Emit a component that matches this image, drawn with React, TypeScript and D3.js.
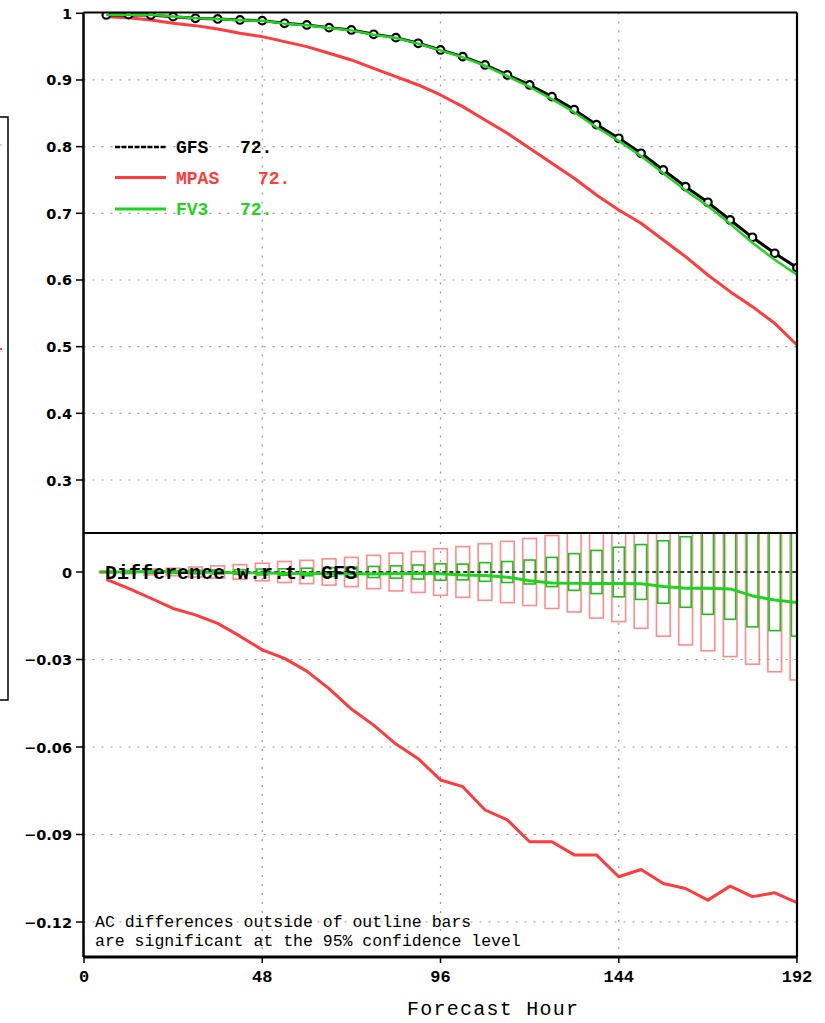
import React from "react";
import * as d3 from "d3";

const hours = [6, 12, 18, 24, 30, 36, 42, 48, 54, 60, 66, 72, 78, 84, 90, 96, 102, 108, 114, 120, 126, 132, 138, 144, 150, 156, 162, 168, 174, 180, 186, 192];

const gfsAC = [0.9975, 0.998, 0.9975, 0.995, 0.9925, 0.9915, 0.99, 0.989, 0.985, 0.9825, 0.9785, 0.975, 0.9685, 0.9635, 0.955, 0.945, 0.935, 0.9225, 0.9075, 0.8925, 0.875, 0.8555, 0.833, 0.8125, 0.79, 0.765, 0.74, 0.7165, 0.69, 0.664, 0.64, 0.6185];
const mpasAC = [0.995, 0.9935, 0.99, 0.985, 0.9815, 0.9765, 0.97, 0.965, 0.9575, 0.95, 0.94, 0.93, 0.9175, 0.905, 0.8925, 0.8775, 0.86, 0.84, 0.82, 0.7975, 0.775, 0.7525, 0.7275, 0.705, 0.685, 0.66, 0.635, 0.6075, 0.5825, 0.56, 0.535, 0.5025];
const fv3AC = [0.9975, 0.998, 0.9977, 0.9952, 0.9925, 0.9913, 0.9897, 0.9887, 0.9845, 0.982, 0.978, 0.9744, 0.9678, 0.963, 0.9545, 0.9444, 0.934, 0.9213, 0.9057, 0.8895, 0.8712, 0.8516, 0.8291, 0.8086, 0.786, 0.76, 0.7344, 0.7109, 0.6842, 0.6558, 0.6304, 0.608];

const gfsDiff = [0, 0, 0, 0, 0, 0, 0, 0, 0, 0, 0, 0, 0, 0, 0, 0, 0, 0, 0, 0, 0, 0, 0, 0, 0, 0, 0, 0, 0, 0, 0, 0];
const mpasDiff = [-0.0025, -0.0056, -0.009, -0.0125, -0.0147, -0.0176, -0.022, -0.0267, -0.0296, -0.034, -0.04, -0.047, -0.0525, -0.059, -0.064, -0.0713, -0.0736, -0.0816, -0.085, -0.0925, -0.0925, -0.097, -0.097, -0.1045, -0.102, -0.1068, -0.1085, -0.1125, -0.1077, -0.1113, -0.11, -0.1134];
const fv3Diff = [0, 0, 0.0002, 0.0002, 0, -0.0002, -0.0003, -0.0003, -0.0005, -0.0005, -0.0005, -0.0006, -0.0007, -0.0005, -0.0005, -0.0006, -0.001, -0.0012, -0.0018, -0.003, -0.0038, -0.0039, -0.0039, -0.0039, -0.004, -0.005, -0.0056, -0.0056, -0.0058, -0.0082, -0.0096, -0.0105];

const mpasCI = [0.0003, 0.0006, 0.001, 0.0013, 0.0017, 0.0021, 0.0025, 0.003, 0.0036, 0.004, 0.0045, 0.005, 0.0057, 0.0065, 0.007, 0.008, 0.0087, 0.0097, 0.0105, 0.0115, 0.0125, 0.0137, 0.0158, 0.017, 0.0193, 0.022, 0.025, 0.027, 0.029, 0.0316, 0.0342, 0.037];
const fv3CI = [0.0002, 0.0003, 0.0004, 0.0005, 0.0006, 0.0007, 0.0008, 0.001, 0.0011, 0.0013, 0.0015, 0.0017, 0.0019, 0.0021, 0.0024, 0.0028, 0.0027, 0.0032, 0.0036, 0.0041, 0.005, 0.0063, 0.0074, 0.0085, 0.0094, 0.0107, 0.0121, 0.0145, 0.0162, 0.0188, 0.0201, 0.022];

const xTicks = [0, 48, 96, 144, 192];
const topTicks = [1, 0.9, 0.8, 0.7, 0.6, 0.5, 0.4, 0.3];
const topTickLabels = ["1", "0.9", "0.8", "0.7", "0.6", "0.5", "0.4", "0.3"];
const botTicks = [0, -0.03, -0.06, -0.09, -0.12];
const botTickLabels = ["0", "\u22120.03", "\u22120.06", "\u22120.09", "\u22120.12"];

const legendNames = ["GFS", "MPAS", "FV3"];
const legendVals = ["72.", "72.", "72."];

const RED = "#ff3b3b";
const GREEN = "#1ed41e";
const MONO = "'Liberation Mono', 'DejaVu Sans Mono', monospace";
const SANS = "'DejaVu Sans', sans-serif";

export default function App() {
  const W = 825, H = 1023;
  const L = 83.5, R = 797;
  const topY0 = 12.5, midY = 533, botY1 = 957;

  const x = d3.scaleLinear().domain([0, 192]).range([84, 797]);
  const yTop = d3.scaleLinear().domain([0.3, 1]).range([480, 13.3]);
  const yBot = d3.scaleLinear().domain([0, -0.12]).range([572, 922]);

  const lineTop = (vals: number[]) =>
    d3.line<number>().x((_, i) => x(hours[i])).y((v) => yTop(v))(vals) || "";
  const lineBot = (vals: number[]) =>
    d3.line<number>().x((_, i) => x(hours[i])).y((v) => yBot(v))(vals) || "";

  const grid = "#9a9a9a";
  const legendColors = ["#000", RED, GREEN];

  return (
    <svg width={W} height={H} style={{ position: "absolute", left: 0, top: 0, background: "#fff" }}>
      <defs>
        <clipPath id="clipTop">
          <rect x={L} y={topY0} width={R - L} height={midY - topY0} />
        </clipPath>
        <clipPath id="clipBot">
          <rect x={L} y={midY + 1} width={R - L} height={botY1 - midY - 1} />
        </clipPath>
      </defs>

      {/* clipped left panel remnant */}
      <rect x={-5} y={117} width={13} height={583} fill="none" stroke="#000" strokeWidth={1.5} />
      <line x1={0} x2={2} y1={349} y2={349} stroke={RED} strokeWidth={2} />
      <line x1={0} x2={2} y1={145} y2={145} stroke="#9be09b" strokeWidth={1.5} />

      {/* grids top */}
      {topTicks.slice(1).map((t) => (
        <line key={"gt" + t} x1={L} x2={R} y1={yTop(t)} y2={yTop(t)} stroke={grid} strokeWidth={1.2} strokeDasharray="2,7" />
      ))}
      {xTicks.slice(1, 4).map((t) => (
        <line key={"gvt" + t} x1={x(t)} x2={x(t)} y1={topY0} y2={midY} stroke={grid} strokeWidth={1.2} strokeDasharray="2,7" />
      ))}
      {/* grids bottom */}
      {botTicks.slice(1).map((t) => (
        <line key={"gb" + t} x1={L} x2={R} y1={yBot(t)} y2={yBot(t)} stroke={grid} strokeWidth={1.2} strokeDasharray="2,7" />
      ))}
      {xTicks.slice(1, 4).map((t) => (
        <line key={"gvb" + t} x1={x(t)} x2={x(t)} y1={midY} y2={botY1} stroke={grid} strokeWidth={1.2} strokeDasharray="2,7" />
      ))}

      {/* top panel lines */}
      <g clipPath="url(#clipTop)">
        <path d={lineTop(mpasAC)} fill="none" stroke={RED} strokeWidth={3} strokeLinejoin="round" />
        <path d={lineTop(gfsAC)} fill="none" stroke="#000" strokeWidth={3} strokeLinejoin="round" />
        {gfsAC.map((v, i) => (
          <circle key={"m" + i} cx={x(hours[i])} cy={yTop(v)} r={3.8} fill="#fff" stroke="#000" strokeWidth={2.2} />
        ))}
        <path d={lineTop(fv3AC)} fill="none" stroke={GREEN} strokeWidth={2.5} strokeLinejoin="round" />
      </g>

      {/* legend */}
      {legendNames.map((n, i) => {
        const ly = [147, 177.5, 209][i];
        return (
          <g key={"lg" + n}>
            <line x1={115} x2={166} y1={ly} y2={ly} stroke={legendColors[i]} strokeWidth={i === 0 ? 2.5 : 3} strokeDasharray={i === 0 ? "5,1.5" : undefined} />
            <text x={176} y={ly + 6} fontFamily={MONO} fontWeight="bold" fontSize={18} fill={legendColors[i]}>{n}</text>
            <text x={[240, 258, 240][i]} y={ly + 6} fontFamily={MONO} fontWeight="bold" fontSize={18} fill={legendColors[i]}>{legendVals[i]}</text>
          </g>
        );
      })}

      {/* bottom panel bars and lines */}
      <g clipPath="url(#clipBot)">
        {hours.map((h, i) => (
          <rect key={"rb" + h} x={x(h - 1.85)} width={x(h + 1.85) - x(h - 1.85)}
            y={yBot(mpasCI[i])} height={yBot(-mpasCI[i]) - yBot(mpasCI[i])}
            fill="none" stroke="#ff6e6e" strokeOpacity={0.8} strokeWidth={1.6} />
        ))}
        {hours.map((h, i) => (
          <rect key={"gb" + h} x={x(h - 1.5)} width={x(h + 1.5) - x(h - 1.5)}
            y={yBot(fv3CI[i])} height={yBot(-fv3CI[i]) - yBot(fv3CI[i])}
            fill="none" stroke="#1cc01c" strokeWidth={1.6} />
        ))}
        <path d={lineBot(gfsDiff)} fill="none" stroke="#333" strokeWidth={2} strokeDasharray="4,3" />
        <path d={lineBot(mpasDiff)} fill="none" stroke={RED} strokeWidth={3} strokeLinejoin="round" />
        <path d={lineBot(fv3Diff)} fill="none" stroke={GREEN} strokeWidth={3} strokeLinejoin="round" />
      </g>

      <text x={105} y={579} fontFamily={MONO} fontWeight="bold" fontSize={20} fill="#000">Difference w.r.t. GFS</text>
      <text x={95} y={927} fontFamily={MONO} fontSize={16.5} fill="#000">AC differences outside of outline bars</text>
      <text x={95} y={946} fontFamily={MONO} fontSize={16.5} fill="#000">are significant at the 95% confidence level</text>

      {/* frame */}
      <line x1={L} x2={R} y1={topY0} y2={topY0} stroke="#000" strokeWidth={2.2} />
      <line x1={R} x2={R} y1={topY0} y2={botY1} stroke="#000" strokeWidth={2.2} />
      <line x1={L} x2={L} y1={topY0} y2={botY1} stroke="#000" strokeWidth={2.5} />
      <line x1={L} x2={R} y1={midY} y2={midY} stroke="#000" strokeWidth={2.2} />
      <line x1={L} x2={R} y1={botY1} y2={botY1} stroke="#000" strokeWidth={3.2} />

      {/* y ticks top */}
      {topTicks.map((t, i) => (
        <g key={"tt" + t}>
          <line x1={76} x2={L} y1={yTop(t)} y2={yTop(t)} stroke="#000" strokeWidth={1.5} />
          <text x={72} y={yTop(t) + 5.5} textAnchor="end" fontFamily={SANS} fontWeight="bold" fontSize={14.5} fill="#000">{topTickLabels[i]}</text>
        </g>
      ))}
      {/* y ticks bottom */}
      {botTicks.map((t, i) => (
        <g key={"bt" + t}>
          <line x1={76} x2={L} y1={yBot(t)} y2={yBot(t)} stroke="#000" strokeWidth={1.5} />
          <text x={72} y={yBot(t) + 5.5} textAnchor="end" fontFamily={SANS} fontWeight="bold" fontSize={14.5} fill="#000">{botTickLabels[i]}</text>
        </g>
      ))}
      {/* x ticks */}
      {xTicks.map((t) => (
        <g key={"xt" + t}>
          <line x1={x(t)} x2={x(t)} y1={botY1} y2={botY1 + 6} stroke="#000" strokeWidth={1.5} />
          <text x={x(t)} y={982} textAnchor="middle" fontFamily={MONO} fontWeight="bold" fontSize={17} fill="#000">{t}</text>
        </g>
      ))}
      <text x={407} y={1015} fontFamily={MONO} fontSize={20} fill="#000" textLength={171}>Forecast Hour</text>
    </svg>
  );
}
